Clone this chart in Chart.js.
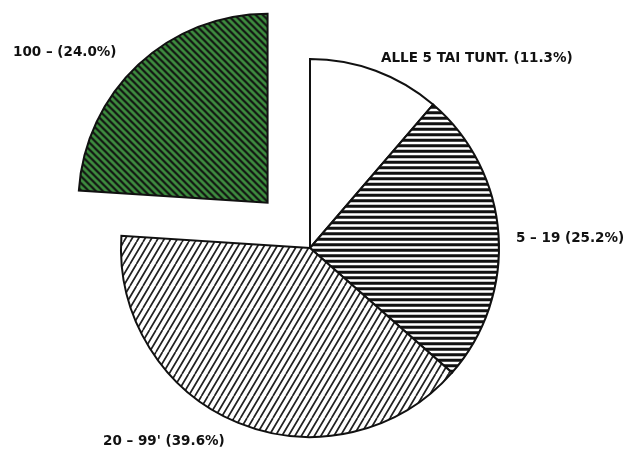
<!DOCTYPE html>
<html lang="fi">
<head>
  <meta charset="UTF-8">
  <title>Tilakoot kokoluokittain</title>
  <script src="https://cdn.jsdelivr.net/npm/chart.js"></script>
  <style>
    html, body { margin: 0; padding: 0; background: #fff; }
  </style>
</head>
<body>
  <canvas id="pie" width="638" height="450"></canvas>
  <script>
    // size classes and their shares (%)
    const classes = ["ALLE 5 TAI TUNT.", "5 – 19", "20 – 99'", "100 –"];
    const shares = [11.3, 25.2, 39.6, 24.0];
    const pulledOut = [0, 0, 0, 248]; // chart.js divides arc offset by 4

    // small tiles for the hatch fills
    function hatch(w, h, bg, fg, lw, segs) {
      const c = document.createElement("canvas");
      c.width = w; c.height = h;
      const g = c.getContext("2d");
      g.fillStyle = bg;
      g.fillRect(0, 0, w, h);
      g.strokeStyle = fg;
      g.lineWidth = lw;
      g.beginPath();
      segs.forEach(s => { g.moveTo(s[0], s[1]); g.lineTo(s[2], s[3]); });
      g.stroke();
      return g.createPattern(c, "repeat");
    }

    const ctx = document.getElementById("pie").getContext("2d");

    const horiz = hatch(12, 11, "#fff", "#111", 3, [[0, 2.75, 12, 2.75], [0, 8.25, 12, 8.25]]);
    const steep = hatch(13, 22, "#fff", "#222", 1.7, [
      [-13, 22, 0, 0], [0, 22, 13, 0], [13, 22, 26, 0],
      [-6.5, 22, 6.5, 0], [6.5, 22, 19.5, 0]
    ]);
    const green = hatch(7, 7, "#3f8f40", "#111", 2.2, [
      [0, 0, 7, 7], [-7, 0, 0, 7], [7, 0, 14, 7], [0, -7, 7, 0], [0, 7, 7, 14]
    ]);

    const sliceLabels = {
      id: "sliceLabels",
      afterDatasetsDraw(chart) {
        const c = chart.ctx;
        const spots = [[381, 58], [516, 238], [103, 441], [13, 52]];
        c.save();
        c.font = "bold 13.5px 'DejaVu Sans', sans-serif";
        c.fillStyle = "#111";
        c.textBaseline = "middle";
        classes.forEach((name, i) => {
          c.fillText(name + " (" + shares[i].toFixed(1) + "%)", spots[i][0], spots[i][1]);
        });
        c.restore();
      }
    };

    new Chart(ctx, {
      type: "pie",
      data: {
        labels: classes,
        datasets: [{
          data: shares,
          backgroundColor: ["#fff", horiz, steep, green],
          borderColor: "#111",
          borderWidth: 2,
          borderJoinStyle: "miter",
          offset: pulledOut,
          hoverOffset: 0,
          radius: 189,
          clip: false
        }]
      },
      options: {
        responsive: false,
        animation: false,
        devicePixelRatio: 1,
        layout: { padding: { left: 0, right: 18, top: 46, bottom: 0 } },
        plugins: {
          legend: { display: false },
          tooltip: { enabled: false }
        }
      },
      plugins: [sliceLabels]
    });
  </script>
</body>
</html>
